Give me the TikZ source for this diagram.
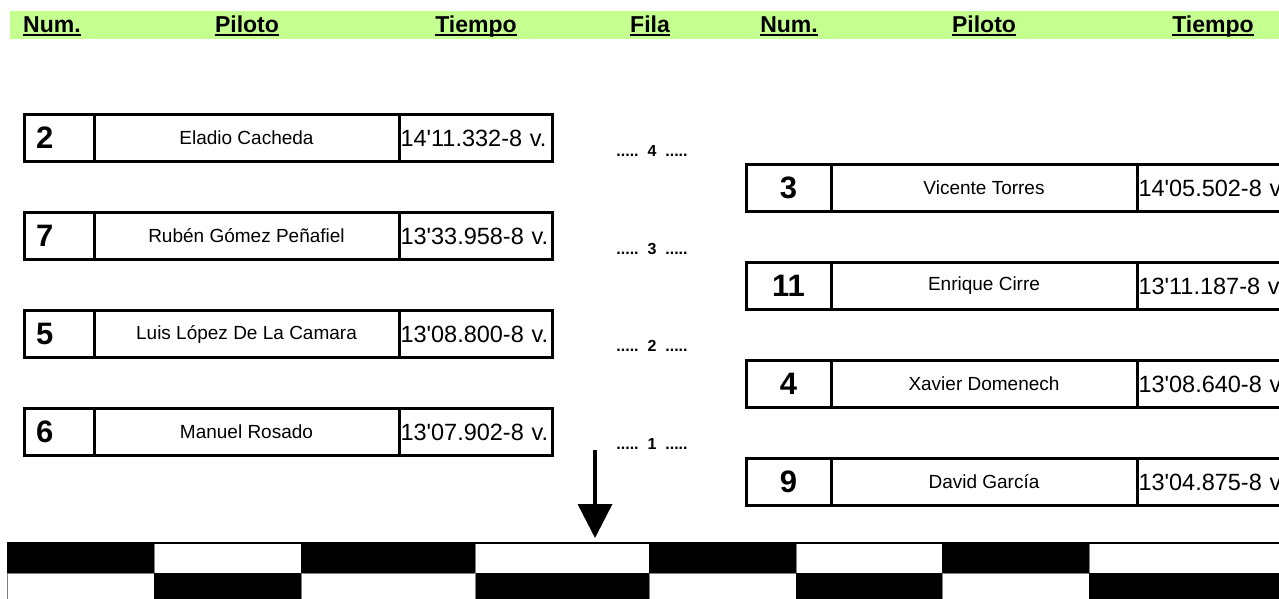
\documentclass[tikz,border=0pt]{standalone}
\usepackage{fontspec}
\setmainfont{Liberation Sans}
\usetikzlibrary{positioning,arrows.meta}
\definecolor{hdrgreen}{RGB}{196,255,144}
\tikzset{
  hdr/.style={anchor=base,inner sep=0pt,font=\fontsize{23}{23}\selectfont\bfseries},
  cell/.style={draw,line width=3pt,outer sep=0pt,inner sep=0pt,minimum height=47pt,anchor=north west},
  numcell/.style={cell,font=\fontsize{31}{31}\selectfont\bfseries},
  pilcell/.style={cell,minimum width=#1,font=\fontsize{19}{19}\selectfont},
  tiecell/.style={cell,inner xsep=1.5pt,text width=#1,align=left,font=\fontsize{23.5}{23.5}\selectfont},
  fila/.style={inner sep=0pt,font=\fontsize{16}{16}\selectfont\bfseries},
}
\begin{document}
\begin{tikzpicture}[x=1pt,y=-1pt]
\useasboundingbox (0,0) rectangle (1279,598);
\clip (0,0) rectangle (1279,598);

% header
\fill[hdrgreen] (10,11) rectangle (1279,39);
\foreach \nm/\xc/\txt in {hNumA/52/Num., hPilA/247/Piloto, hTieA/476/Tiempo, hFila/650/Fila,
                          hNumB/789/Num., hPilB/984/Piloto, hTieB/1213/Tiempo}{
  \node[hdr] (\nm) at (\xc,32) {\txt};
  \draw[line width=2pt] ([yshift=-2.5pt]\nm.base west) -- ([yshift=-2.5pt]\nm.base east);
}

% left column
\foreach \num/\pil/\tie [count=\k] in {2/Eladio Cacheda/14\textquotesingle 11.332-8 v.,
    7/Rubén Gómez Peñafiel/13\textquotesingle 33.958-8 v.,
    5/Luis López De La Camara/13\textquotesingle 08.800-8 v.,
    6/Manuel Rosado/13\textquotesingle 07.902-8 v.}{
  \node[numcell,inner xsep=12pt,text width=46pt,align=left] (nL\k) at (24,{114.5+98*(\k-1)}) {\num};
  \node[pilcell=305pt,right=0pt of nL\k] (pL\k) {\pil};
  \node[tiecell=150.5pt,right=0pt of pL\k] (tL\k) {\tie};
}

% right column
\foreach \num/\pil/\tie [count=\k] in {3/Vicente Torres/14\textquotesingle 05.502-8 v,
    11/Enrique Cirre/13\textquotesingle 11.187-8 v,
    4/Xavier Domenech/13\textquotesingle 08.640-8 v,
    9/David García/13\textquotesingle 04.875-8 v}{
  \node[numcell,minimum width=85pt] (nR\k) at (746,{164.5+98*(\k-1)}) {\num};
  \node[pilcell=306pt,right=0pt of nR\k] (pR\k) {\pil};
  \node[tiecell=160pt,right=0pt of pR\k] (tR\k) {\tie};
}

% rows
\foreach \f [count=\k] in {4,3,2,1}
  \node[fila] (fila\f) at (652,{151+97.5*(\k-1)}) {.....~~\f~~.....};

% arrow
\coordinate (arrTop) at (595,450);
\coordinate (arrTip) at (595,538);
\draw[line width=3.5pt,-{Triangle[length=34pt,width=34pt]}] (arrTop) -- (arrTip);

% flag
\foreach \xa/\xb [count=\k] in {7/154,154/301,301/475.5,475.5/649,649/796,796/942,942/1089,1089/1290}{
  \ifodd\k
    \fill (\xa,543) rectangle (\xb,573);
    \draw[gray,line width=1pt] (\xa,573) rectangle (\xb,600);
  \else
    \draw[gray,line width=1pt] (\xa,543) rectangle (\xb,573);
    \fill (\xa,573) rectangle (\xb,600);
  \fi
}
\draw[line width=1.2pt] (7,543) -- (1279,543);
\end{tikzpicture}
\end{document}
